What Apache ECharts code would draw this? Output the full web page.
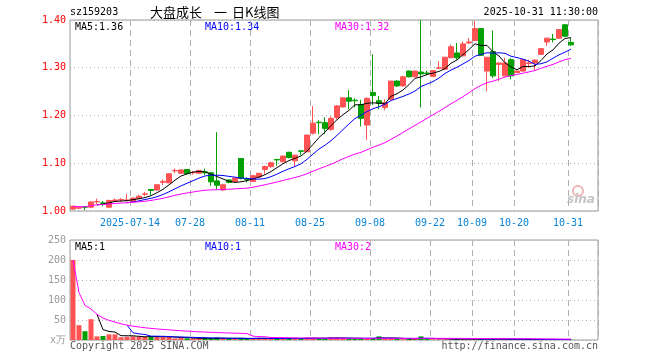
<!DOCTYPE html>
<html><head><meta charset="utf-8">
<script src="https://cdn.jsdelivr.net/npm/echarts/dist/echarts.min.js"></script>
<style>html,body{margin:0;padding:0;background:#fff}#c{width:660px;height:360px}</style>
</head><body><div id="c"></div>
<script>
const dates = [
'2025-06-30','2025-07-01','2025-07-02','2025-07-03','2025-07-04','2025-07-07','2025-07-08','2025-07-09','2025-07-10','2025-07-11',
'2025-07-14','2025-07-15','2025-07-16','2025-07-17','2025-07-18','2025-07-21','2025-07-22','2025-07-23','2025-07-24','2025-07-25',
'2025-07-28','2025-07-29','2025-07-30','2025-07-31','2025-08-01','2025-08-04','2025-08-05','2025-08-06','2025-08-07','2025-08-08',
'2025-08-11','2025-08-12','2025-08-13','2025-08-14','2025-08-15','2025-08-18','2025-08-19','2025-08-20','2025-08-21','2025-08-22',
'2025-08-25','2025-08-26','2025-08-27','2025-08-28','2025-08-29','2025-09-01','2025-09-02','2025-09-03','2025-09-04','2025-09-05',
'2025-09-08','2025-09-09','2025-09-10','2025-09-11','2025-09-12','2025-09-15','2025-09-16','2025-09-17','2025-09-18','2025-09-19',
'2025-09-22','2025-09-23','2025-09-24','2025-09-25','2025-09-26','2025-09-29','2025-09-30','2025-10-09','2025-10-10','2025-10-13',
'2025-10-14','2025-10-15','2025-10-16','2025-10-17','2025-10-20','2025-10-21','2025-10-22','2025-10-23','2025-10-24','2025-10-27',
'2025-10-28','2025-10-29','2025-10-30','2025-10-31'];
const blankSlots = ['+1','+2','+3','+4'];

const opens = [
1.004,1.006,1.009,1.008,1.019,1.017,1.008,1.021,1.023,1.022,
1.020,1.026,1.035,1.045,1.044,1.060,1.059,1.084,1.079,1.087,
1.080,1.079,1.082,1.080,1.063,1.044,1.065,1.062,1.110,1.067,
1.062,1.071,1.087,1.093,1.108,1.103,1.123,1.105,1.126,1.124,
1.163,1.186,1.185,1.171,1.196,1.218,1.237,1.232,1.223,1.180,
1.248,1.231,1.217,1.234,1.272,1.262,1.293,1.281,1.291,1.289,
1.282,1.299,1.297,1.321,1.331,1.325,1.352,1.357,1.382,1.293,
1.334,1.307,1.283,1.317,1.290,1.293,1.309,1.310,1.328,1.354,
1.360,1.362,1.390,1.353];
const closes = [
1.010,1.008,1.008,1.019,1.020,1.016,1.022,1.023,1.024,1.023,
1.027,1.031,1.036,1.043,1.055,1.062,1.078,1.085,1.086,1.078,
1.081,1.085,1.080,1.061,1.054,1.055,1.060,1.069,1.068,1.066,
1.074,1.079,1.093,1.101,1.107,1.115,1.112,1.117,1.125,1.159,
1.184,1.185,1.173,1.194,1.220,1.237,1.230,1.231,1.194,1.236,
1.242,1.225,1.227,1.272,1.262,1.281,1.281,1.293,1.287,1.288,
1.294,1.300,1.322,1.344,1.321,1.350,1.354,1.382,1.326,1.322,
1.283,1.310,1.310,1.283,1.293,1.317,1.310,1.316,1.340,1.362,
1.359,1.380,1.366,1.348];
const lows = [
1.002,1.004,1.002,1.006,1.015,1.010,1.006,1.019,1.019,1.019,
1.019,1.025,1.031,1.033,1.043,1.054,1.058,1.079,1.078,1.077,
1.076,1.078,1.075,1.053,1.045,1.042,1.058,1.060,1.066,1.060,
1.061,1.069,1.078,1.090,1.095,1.102,1.110,1.094,1.117,1.123,
1.160,1.161,1.161,1.168,1.192,1.216,1.213,1.217,1.177,1.149,
1.222,1.213,1.211,1.233,1.260,1.261,1.280,1.280,1.217,1.284,
1.281,1.297,1.296,1.320,1.317,1.324,1.350,1.356,1.325,1.251,
1.279,1.272,1.282,1.276,1.289,1.292,1.300,1.295,1.327,1.346,
1.353,1.361,1.365,1.346];
const highs = [
1.011,1.010,1.010,1.020,1.026,1.021,1.024,1.026,1.027,1.036,
1.028,1.034,1.040,1.045,1.056,1.066,1.079,1.089,1.087,1.088,
1.084,1.086,1.089,1.081,1.165,1.057,1.066,1.070,1.111,1.071,
1.075,1.080,1.095,1.103,1.108,1.116,1.124,1.118,1.126,1.160,
1.220,1.190,1.196,1.198,1.222,1.238,1.253,1.236,1.233,1.238,
1.328,1.241,1.234,1.273,1.274,1.283,1.294,1.294,1.400,1.294,
1.295,1.314,1.323,1.349,1.352,1.355,1.362,1.398,1.383,1.323,
1.378,1.311,1.321,1.320,1.294,1.318,1.317,1.317,1.341,1.363,
1.371,1.381,1.391,1.362];
const volumes = [
200,37,22,52,9,10,14,14,7,8,
9,8,8,9,8,7,9,4,5,4,
4,3,5,4,6,4,3,4,5,3,
4,5,4,3,4,3,5,4,3,6,
5,4,4,6,6,4,3,3,4,4,
5,9,3,4,3,2,3,2,9,3,
2,2,3,2,3,2,2,3,3,2,
3,2,2,2,1,1.5,1,1,1.5,1,
1,1.5,1,0.8];

const tickDates = ['2025-07-14','2025-07-28','2025-08-11','2025-08-25','2025-09-08','2025-09-22','2025-10-09','2025-10-20','2025-10-31'];
const tickLabels = ['2025-07-14','07-28','08-11','08-25','09-08','09-22','10-09','10-20','10-31'];
const priceAxis = {min:1.00, max:1.40, step:0.10};
const volAxis = {min:0, max:250, step:50, unit:'x万'};
const priceMaLabels = ['MA5:1.36','MA10:1.34','MA30:1.32'];
const volMaLabels = ['MA5:1','MA10:1','MA30:2'];
const headerCode = 'sz159203';
const headerTitleParts = ['大盘成长', '一', '日K线图'];
const headerTime = '2025-10-31 11:30:00';
const footLeft = 'Copyright 2025 SINA.COM';
const footRight = 'http://finance.sina.com.cn';

const RED = '#ff5252', GREEN = '#00a000';
const MONO = '"DejaVu Sans Mono", monospace';

function ma(arr, n, expanding) {
  return arr.map((v, i) => {
    if (i < n - 1) {
      if (!expanding) return '-';
      let s = 0; for (let k = 0; k <= i; k++) s += arr[k];
      return +(s / (i + 1)).toFixed(4);
    }
    let s = 0; for (let k = i - n + 1; k <= i; k++) s += arr[k];
    return +(s / n).toFixed(4);
  });
}

const cats = dates.concat(blankSlots);
const kData = dates.map((d, i) => [opens[i], closes[i], lows[i], highs[i]]);
const volData = volumes.map((v, i) => ({
  value: v,
  itemStyle: {color: closes[i] >= opens[i] ? RED : GREEN}
}));

const isTick = (idx, val) => tickDates.indexOf(val) >= 0;
const vSplit = {show: true, interval: isTick, lineStyle: {color: '#b0b0b0', type: [6, 4], width: 1}};
const hSplit = {show: true, lineStyle: {color: '#b0b0b0', type: [1, 3], width: 1}};

const chart = echarts.init(document.getElementById('c'), null, {renderer: 'canvas'});

function lineSeries(data, color, xi, yi) {
  return {type: 'line', data: data, xAxisIndex: xi, yAxisIndex: yi, symbol: 'none',
    lineStyle: {color: color, width: 1}, itemStyle: {color: color}, silent: true, z: 3};
}

function txt(text, x, y, color, font, align) {
  return {type: 'text', x: x, y: y, silent: true,
    style: {text: text, fill: color, font: font || ('10px ' + MONO), align: align || 'left', verticalAlign: 'middle'}};
}
const CJK = '13px "Noto Sans CJK SC"';

chart.setOption({
  animation: false,
  backgroundColor: '#fff',
  grid: [
    {left: 70, top: 20, width: 528, height: 191, show: true, borderColor: '#9a9a9a', borderWidth: 1, backgroundColor: 'transparent'},
    {left: 70, top: 240, width: 528, height: 100, show: true, borderColor: '#9a9a9a', borderWidth: 1, backgroundColor: 'transparent'}
  ],
  xAxis: [
    {type: 'category', gridIndex: 0, data: cats, boundaryGap: true,
      axisLine: {show: false}, axisTick: {show: false},
      axisLabel: {show: true, interval: isTick, color: '#0a84d8', fontFamily: MONO, fontSize: 10, margin: 7,
        padding: [0, 6, 0, 0],
        formatter: (v) => { const k = tickDates.indexOf(v); return k >= 0 ? tickLabels[k] : ''; }},
      splitLine: vSplit},
    {type: 'category', gridIndex: 1, data: cats, boundaryGap: true,
      axisLine: {show: false}, axisTick: {show: false}, axisLabel: {show: false},
      splitLine: vSplit}
  ],
  yAxis: [
    {type: 'value', gridIndex: 0, min: priceAxis.min, max: priceAxis.max, interval: priceAxis.step,
      axisLine: {show: false}, axisTick: {show: false},
      axisLabel: {color: '#ff0000', fontFamily: MONO, fontSize: 10, margin: 4, formatter: (v) => v.toFixed(2)},
      splitLine: hSplit},
    {type: 'value', gridIndex: 1, min: volAxis.min, max: volAxis.max, interval: volAxis.step,
      axisLine: {show: false}, axisTick: {show: false},
      axisLabel: {color: '#999999', fontFamily: MONO, fontSize: 10, margin: 4,
        formatter: (v) => v === 0 ? volAxis.unit : String(v)},
      splitLine: hSplit}
  ],
  series: [
    {type: 'candlestick', xAxisIndex: 0, yAxisIndex: 0, data: kData, barWidth: 5, z: 2,
      itemStyle: {color: RED, color0: GREEN, borderColor: RED, borderColor0: GREEN, borderWidth: 1}},
    lineSeries(ma(closes, 5, false), '#000000', 0, 0),
    lineSeries(ma(closes, 10, false), '#0000ff', 0, 0),
    lineSeries(ma(closes, 30, true), '#ff00ff', 0, 0),
    {type: 'bar', xAxisIndex: 1, yAxisIndex: 1, data: volData, barWidth: 5, z: 2, silent: true},
    lineSeries(ma(volumes, 5, false), '#000000', 1, 1),
    lineSeries(ma(volumes, 10, false), '#0000ff', 1, 1),
    lineSeries(ma(volumes, 30, true), '#ff00ff', 1, 1)
  ],
  graphic: [
    txt(headerCode, 70, 12, '#000'),
    txt(headerTitleParts[0], 150, 12, '#000', CJK),
    txt(headerTitleParts[1], 214, 12, '#000', CJK),
    txt(headerTitleParts[2], 232, 12, '#000', CJK),
    txt(headerTime, 598, 12, '#000', null, 'right'),
    txt(priceMaLabels[0], 75, 27, '#000'),
    txt(priceMaLabels[1], 205, 27, '#0000ff'),
    txt(priceMaLabels[2], 335, 27, '#ff00ff'),
    txt(volMaLabels[0], 75, 247, '#000'),
    txt(volMaLabels[1], 205, 247, '#0000ff'),
    txt(volMaLabels[2], 335, 247, '#ff00ff'),
    txt(footLeft, 70, 346, '#555'),
    txt(footRight, 598, 346, '#555', null, 'right'),
    {type: 'circle', shape: {cx: 578, cy: 191, r: 5}, silent: true,
      style: {fill: 'rgba(255,255,255,0)', stroke: 'rgba(230,120,120,0.55)', lineWidth: 2}},
    txt('sina', 581, 200, '#c4c4c4', 'italic bold 12px "DejaVu Sans"', 'center')
  ]
});
</script>
</body></html>
